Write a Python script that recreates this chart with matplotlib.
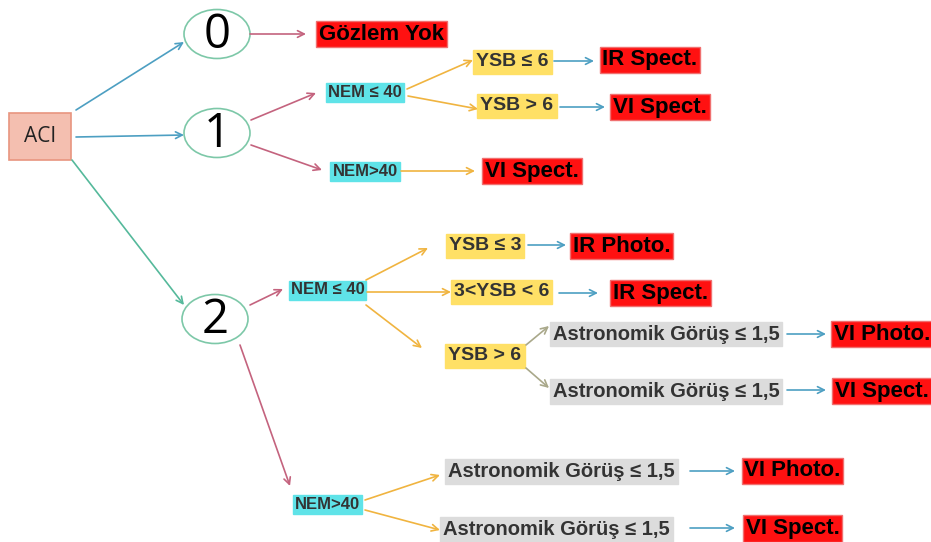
import matplotlib.pyplot as plt
from matplotlib.patches import Ellipse, Rectangle

# node boxes: label, center x, center y, kind
box_labels = ['Gözlem Yok', 'NEM ≤ 40', 'NEM>40', 'YSB ≤ 6', 'YSB > 6',
              'IR Spect.', 'VI Spect.', 'VI Spect.',
              'NEM ≤ 40', 'NEM>40', 'YSB ≤ 3', 'IR Photo.', '3<YSB < 6', 'IR Spect.',
              'YSB > 6', 'Astronomik Görüş ≤ 1,5', 'VI Photo.',
              'Astronomik Görüş ≤ 1,5', 'VI Spect.',
              'Astronomik Görüş ≤ 1,5', 'Astronomik Görüş ≤ 1,5', 'VI Photo.', 'VI Spect.']
box_x = [381.5, 365, 365, 512.5, 517, 650, 660, 532,
         327.5, 327.5, 485, 621.5, 501.5, 660.5,
         485, 666, 882, 666, 882,
         561.5, 556.5, 792.5, 792.5]
box_y = [34, 92.5, 171.5, 62, 106, 60, 107, 171,
         290, 504.5, 246, 246, 292, 293,
         356, 334, 334, 391.5, 391,
         471.5, 529.5, 471, 528.5]
box_kind = ['res', 'nem', 'nem', 'ysb', 'ysb', 'res', 'res', 'res',
            'nem', 'nem', 'ysb', 'res', 'ysb', 'res',
            'ysb', 'ast', 'res', 'ast', 'res',
            'ast', 'ast', 'res', 'res']

# ACI classes (ellipses)
aci_labels = ['0', '1', '2']
aci_x = [217, 217, 215]
aci_y = [34, 133, 319]

# arrows: start, end, colour key
arrow_start = [(76, 110), (76, 137), (72, 160), (250, 34), (251, 120), (251, 145),
               (407, 89), (408, 96), (554, 61), (560, 107), (401, 171),
               (250, 305), (240, 345), (366, 280), (367, 292), (366, 305),
               (528, 245), (559, 293), (526, 345), (526, 368), (787, 334), (787, 390),
               (365, 500), (365, 510), (690, 471), (690, 528)]
arrow_end = [(184, 42), (184, 135), (184, 305), (306, 34), (316, 93), (322, 170),
             (473, 60), (478, 109), (594, 61), (605, 107), (475, 171),
             (283, 289), (290, 486), (428, 248), (451, 292), (422, 348),
             (566, 245), (598, 293), (549, 326), (549, 388), (826, 334), (826, 390),
             (440, 475), (440, 530), (735, 471), (735, 528)]
arrow_col = ['blue', 'blue', 'teal', 'pink', 'pink', 'pink',
             'orange', 'orange', 'blue', 'blue', 'orange',
             'pink', 'pink', 'orange', 'orange', 'orange',
             'blue', 'blue', 'olive', 'olive', 'blue', 'blue',
             'orange', 'orange', 'blue', 'blue']

colors = {'blue': '#4d9fc2', 'teal': '#55b99b', 'pink': '#c4637e',
          'orange': '#f0b440', 'olive': '#a9a88a'}
styles = {
    'res': dict(fc='#ff1111', ec='#f07070', tc='black', size=16, pad=0.12),
    'nem': dict(fc='#5fe3e8', ec='#5fe3e8', tc='#333333', size=12, pad=0.12),
    'ysb': dict(fc='#ffe066', ec='#ffe066', tc='#333333', size=14, pad=0.16),
    'ast': dict(fc='#dcdcdc', ec='#dcdcdc', tc='#333333', size=14.5, pad=0.14),
}

fig = plt.figure(figsize=(9.31, 5.42), dpi=100)
ax = fig.add_axes([0, 0, 1, 1])
ax.set_xlim(0, 931)
ax.set_ylim(542, 0)
ax.axis('off')

# ACI root
ax.add_patch(Rectangle((9, 113), 62, 47, fc='#f4bfb0', ec='#e8957f', lw=1.2))
ax.text(40, 137, 'ACI', ha='center', va='center', fontsize=15,
        family='Open Sans', color='#222222')

for lab, x, y in zip(aci_labels, aci_x, aci_y):
    ax.add_patch(Ellipse((x, y), 66, 49, fc='white', ec='#7dc8a8', lw=1.2))
    ax.text(x, y + 1, lab, ha='center', va='center', fontsize=34,
            family='Open Sans', color='black')

for lab, x, y, k in zip(box_labels, box_x, box_y, box_kind):
    s = styles[k]
    ax.text(x, y, lab, ha='center', va='center', fontsize=s['size'],
            fontweight='bold', family='Liberation Sans', color=s['tc'],
            bbox=dict(boxstyle='square,pad=%g' % s['pad'], fc=s['fc'], ec=s['ec'], lw=1))

for p0, p1, c in zip(arrow_start, arrow_end, arrow_col):
    ax.annotate('', xy=p1, xytext=p0,
                arrowprops=dict(arrowstyle='->', color=colors[c], lw=1.2,
                                mutation_scale=12, shrinkA=0, shrinkB=0))

fig.savefig('out.png', dpi=100)
